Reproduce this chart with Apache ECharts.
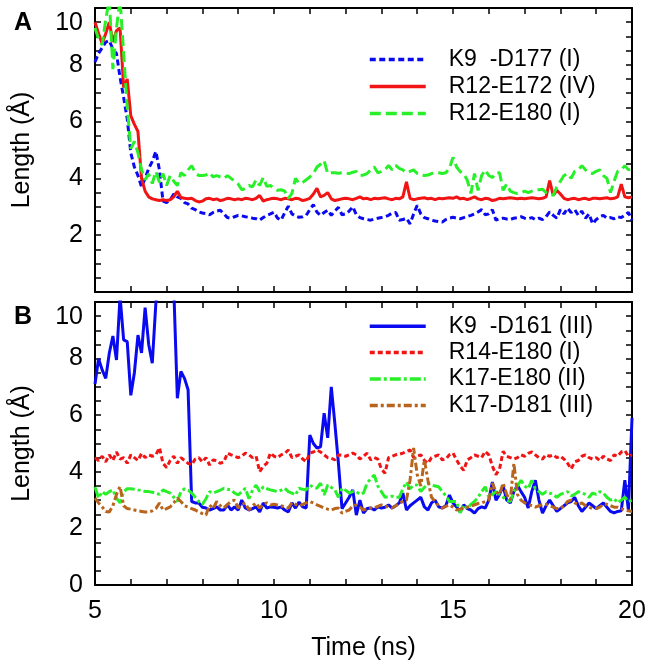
<!DOCTYPE html>
<html>
<head>
<meta charset="utf-8">
<script src="https://cdn.jsdelivr.net/npm/echarts@6/dist/echarts.min.js"></script>
<style>
html,body{margin:0;padding:0;background:#fff;}
#chart{width:655px;height:670px;}
</style>
</head>
<body>
<div id="chart"></div>
<script>
// Time axis: 5 to 20 ns in 0.1 ns steps
const times = [];
for (let i = 0; i <= 150; i++) times.push(Math.round((5 + i * 0.1) * 10) / 10);

const xTicks = [5, 10, 15, 20];
const yTicks = [0, 2, 4, 6, 8, 10];

// Panel A
const namesA = ['K9  -D177 (I)', 'R12-E172 (IV)', 'R12-E180 (I)'];
const a_K9_D177 = [
  8.1,8.4,8.6,8.8,8.85,8.55,8.4,7.55,6.85,6.1,
  4.9,4.4,4.1,3.7,4.0,4.35,4.6,4.95,4.3,3.2,
  3.15,3.25,3.45,3.35,3.3,3.15,3.1,2.95,2.9,2.82,
  2.78,2.76,2.72,2.8,2.85,2.88,2.75,2.62,2.6,2.65,
  2.7,2.68,2.65,2.63,2.6,2.58,2.53,2.62,2.7,2.75,
  2.81,2.6,2.53,2.8,3.02,2.75,2.68,2.63,2.65,2.7,
  2.9,3.08,2.81,2.7,2.8,2.88,2.7,2.85,2.98,2.72,
  2.75,2.85,3.0,2.72,2.62,2.58,2.55,2.53,2.57,2.6,
  2.62,2.65,2.7,2.78,2.8,2.53,2.55,2.6,2.4,2.75,
  3.05,2.75,2.62,2.58,2.53,2.5,2.48,2.46,2.55,2.6,
  2.63,2.6,2.58,2.62,2.66,2.7,2.75,2.82,2.9,2.72,
  2.75,2.9,2.53,2.58,2.6,2.57,2.55,2.6,2.62,2.65,
  2.6,2.58,2.62,2.55,2.6,2.55,2.65,2.82,2.7,2.6,
  2.9,2.75,2.95,2.8,2.9,2.7,2.85,2.6,2.75,2.4,
  2.55,2.65,2.7,2.6,2.62,2.58,2.65,2.62,2.7,2.8,
  2.52
];
const a_R12_E172 = [
  9.5,9.1,8.75,9.1,9.5,8.8,9.2,9.3,7.2,7.5,
  6.2,5.9,5.65,4.0,3.55,3.35,3.28,3.25,3.22,3.25,
  3.22,3.25,3.35,3.55,3.33,3.3,3.28,3.3,3.22,3.17,
  3.2,3.28,3.3,3.25,3.28,3.22,3.25,3.3,3.28,3.25,
  3.28,3.25,3.3,3.28,3.25,3.3,3.4,3.2,3.25,3.28,
  3.3,3.28,3.25,3.3,3.28,3.25,3.3,3.28,3.22,3.25,
  3.3,3.45,3.65,3.35,3.4,3.5,3.28,3.22,3.25,3.28,
  3.3,3.28,3.25,3.3,3.35,3.28,3.3,3.25,3.3,3.28,
  3.3,3.32,3.28,3.25,3.3,3.28,3.35,3.88,3.3,3.25,
  3.28,3.3,3.32,3.28,3.3,3.25,3.3,3.28,3.3,3.32,
  3.3,3.35,3.28,3.3,3.25,3.3,3.35,3.28,3.25,3.3,
  3.28,3.22,3.25,3.3,3.28,3.3,3.32,3.3,3.28,3.3,
  3.28,3.3,3.32,3.3,3.28,3.3,3.35,3.92,3.4,3.58,
  3.45,3.3,3.25,3.28,3.3,3.25,3.28,3.3,3.25,3.3,
  3.3,3.28,3.3,3.32,3.28,3.3,3.35,3.8,3.35,3.32,
  3.35
];
const a_R12_E180 = [
  9.3,8.9,8.7,9.6,10.3,7.85,9.3,10.3,8.4,6.5,
  5.05,5.3,4.9,4.3,3.95,4.15,3.82,4.25,3.86,4.17,
  3.75,4.1,3.9,3.75,4.2,4.1,4.3,4.45,4.2,4.1,
  4.1,4.12,4.2,4.05,4.1,4.05,4.0,4.1,4.0,3.9,
  3.8,3.6,3.65,3.75,3.7,3.95,3.75,4.03,3.72,3.75,
  3.65,3.58,3.6,3.55,3.3,3.47,4.0,3.82,3.86,3.95,
  4.05,4.17,4.4,4.5,4.63,4.17,4.2,4.2,4.18,4.2,
  4.18,4.17,4.22,4.24,4.1,4.12,4.17,4.3,4.4,4.2,
  4.24,4.3,4.46,4.3,4.46,4.35,4.3,4.2,4.25,4.3,
  4.17,4.12,4.1,4.12,4.17,4.2,4.2,4.17,4.2,4.35,
  4.74,4.4,4.24,4.17,3.93,3.47,4.17,3.58,4.1,4.3,
  4.1,4.03,4.2,4.2,3.58,3.8,3.55,3.5,3.47,3.5,
  3.55,3.5,3.55,3.6,3.6,3.62,3.5,3.45,3.4,3.7,
  3.9,4.1,4.17,4.0,4.25,4.3,4.45,4.3,4.2,4.17,
  4.25,4.3,4.1,4.0,3.5,3.9,4.25,4.3,4.45,4.3,
  4.35
];

// Panel B
const namesB = ['K9  -D161 (III)', 'R14-E180 (I)', 'K17-E180 (II)', 'K17-D181 (III)'];
const b_K9_D161 = [
  7.1,8.0,7.6,7.3,8.2,8.8,7.95,10.2,8.66,8.6,
  6.7,7.5,8.83,8.2,9.8,8.5,7.84,9.96,11.0,11.5,
  11.5,11.0,10.5,6.6,7.55,7.3,6.9,2.95,2.9,2.9,
  2.75,2.72,2.65,2.7,2.76,2.65,2.65,2.83,2.65,2.76,
  2.65,3.0,2.72,2.65,2.7,2.76,2.58,2.9,2.72,2.76,
  2.75,2.72,2.76,2.65,2.58,2.9,2.72,2.93,2.76,2.72,
  5.3,5.0,4.84,4.88,6.07,5.2,7.0,5.7,4.3,2.7,
  2.9,3.1,3.36,2.47,3.0,2.54,2.7,2.72,2.65,2.76,
  2.72,2.75,2.83,2.72,2.8,2.9,3.25,2.65,2.8,2.9,
  3.0,3.1,2.76,2.65,2.9,3.0,2.76,2.72,2.8,3.18,
  2.9,2.76,2.58,2.83,2.7,2.65,2.54,2.7,2.76,2.72,
  3.0,3.64,3.0,3.2,3.5,3.0,2.9,3.3,3.53,3.3,
  3.1,2.72,3.3,3.7,3.0,2.54,2.8,3.0,2.8,2.6,
  2.7,2.8,2.9,2.95,3.1,2.8,2.6,2.75,2.9,2.8,
  2.7,2.8,2.9,2.75,2.6,2.55,2.6,2.62,3.7,2.65,
  5.9
];
const b_R14_E180 = [
  4.5,4.4,4.55,4.35,4.6,4.4,4.7,4.45,4.5,4.3,
  4.6,4.5,4.4,4.65,4.5,4.6,4.55,4.6,4.85,4.3,
  4.15,4.4,4.55,4.3,4.5,4.4,4.3,4.25,4.45,4.5,
  4.35,4.5,4.24,4.42,4.4,4.3,4.35,4.66,4.6,4.55,
  4.5,4.55,4.66,4.6,4.5,4.55,4.0,4.2,4.3,4.66,
  4.55,4.5,4.6,4.65,4.77,4.5,4.55,4.6,4.45,4.36,
  4.66,4.7,4.77,4.7,4.6,4.5,4.48,4.42,4.6,4.58,
  4.55,4.6,4.66,4.6,4.45,4.55,4.66,4.42,4.5,4.45,
  4.1,3.95,4.5,4.55,4.6,4.62,4.66,4.72,4.77,4.5,
  4.55,4.6,4.4,4.3,4.5,4.55,4.6,4.42,4.45,4.6,
  4.66,4.42,4.2,4.05,4.42,4.5,4.6,4.55,4.5,4.72,
  4.6,4.2,3.9,4.1,4.72,4.55,4.5,4.45,4.5,4.6,
  4.55,4.65,4.7,4.6,4.5,4.45,4.6,4.55,4.6,4.5,
  4.55,4.45,4.3,4.1,4.35,4.4,4.55,4.6,4.5,4.45,
  4.5,4.4,4.55,4.45,4.4,4.6,4.55,4.7,4.75,4.55,
  4.6
];
const b_K17_E180 = [
  3.46,3.07,3.3,3.2,3.3,3.36,3.07,2.9,3.3,3.4,
  3.4,3.38,3.36,3.35,3.3,3.3,3.28,3.25,3.2,3.36,
  3.3,3.25,3.1,2.95,3.3,3.4,3.35,3.25,3.1,2.95,
  2.85,3.05,3.3,3.25,3.3,3.35,3.42,3.38,3.36,3.25,
  3.18,3.3,3.42,3.05,3.35,3.53,3.3,3.47,3.4,3.36,
  3.33,3.3,3.35,3.42,3.3,3.25,3.18,3.42,3.38,3.36,
  3.53,3.45,3.42,3.6,3.18,3.53,3.45,3.36,3.1,3.42,
  3.35,3.25,3.3,3.3,3.2,3.25,3.6,3.75,3.89,3.5,
  3.3,3.1,3.12,3.14,3.1,3.1,3.4,3.64,3.4,3.53,
  3.53,3.3,3.45,3.6,3.53,3.5,3.47,3.3,3.15,2.95,
  2.95,2.95,2.55,2.83,2.7,2.85,2.95,3.1,3.3,3.47,
  3.1,3.2,3.3,3.2,3.1,3.0,2.95,3.3,3.5,3.7,
  3.5,3.4,3.7,3.4,3.3,3.2,3.3,3.25,3.2,3.1,
  3.2,3.25,3.3,3.15,3.2,3.3,3.25,3.2,3.1,3.25,
  3.2,3.3,3.25,3.1,3.0,3.05,2.9,3.0,3.1,2.95,
  3.0
];
const b_K17_D181 = [
  3.07,2.9,2.76,2.6,2.58,2.8,3.2,3.48,2.8,2.7,
  2.68,2.65,2.62,2.6,2.58,2.58,2.62,2.7,2.9,2.65,
  2.7,2.76,2.9,3.07,2.95,2.8,2.75,2.7,2.65,2.58,
  2.52,2.47,2.83,2.7,2.95,2.8,2.72,2.85,2.95,3.0,
  2.72,2.85,2.9,2.65,2.8,2.9,2.72,2.85,2.9,2.83,
  2.85,2.83,2.8,2.75,2.72,2.9,2.85,2.8,2.85,2.9,
  2.95,2.9,2.83,2.78,2.72,2.68,2.65,2.7,2.72,2.54,
  2.6,2.65,2.8,2.83,2.75,2.65,2.7,2.72,2.72,2.78,
  2.83,2.8,2.75,2.72,2.8,2.9,2.95,3.0,3.7,4.84,
  3.9,3.5,4.42,3.7,3.1,2.95,2.8,2.72,2.78,2.83,
  2.75,2.65,2.68,2.72,2.75,2.78,2.83,2.88,2.9,2.95,
  3.0,3.6,3.3,3.2,3.6,3.2,3.0,4.3,3.2,3.0,
  2.9,2.85,2.8,2.75,2.8,2.85,2.85,2.8,2.75,2.7,
  2.7,2.8,2.95,3.0,2.9,2.85,2.9,2.8,2.75,2.7,
  2.7,2.75,2.85,2.85,2.8,2.75,2.75,2.7,2.65,2.62,
  2.6
];

const FONT = '"Liberation Sans", Arial, Helvetica, sans-serif';
const BLACK = '#000';

function pairs(vals) { return vals.map((v, i) => [times[i], v]); }

function xAx(grid, pos, labels, name) {
  return {
    gridIndex: grid, type: 'value', position: pos,
    min: xTicks[0], max: xTicks[xTicks.length - 1], interval: 5,
    axisLine: { show: true, onZero: false, lineStyle: { color: BLACK, width: 2 } },
    axisTick: { show: true, inside: true, length: 6, lineStyle: { color: BLACK, width: 1.5 } },
    minorTick: { show: true, splitNumber: 5, length: 6, lineStyle: { color: BLACK, width: 1.5 } },
    splitLine: { show: false }, minorSplitLine: { show: false },
    axisLabel: { show: labels, fontSize: 25, color: BLACK, fontFamily: FONT, margin: 14 },
    name: name || '', nameLocation: 'middle', nameGap: 51,
    nameTextStyle: { fontSize: 25, color: BLACK, fontFamily: FONT }
  };
}
function yAx(grid, pos, labels, hideZero) {
  return {
    gridIndex: grid, type: 'value', position: pos,
    min: yTicks[0], max: yTicks[yTicks.length - 1], interval: 2,
    axisLine: { show: true, onZero: false, lineStyle: { color: BLACK, width: 2 } },
    axisTick: { show: true, inside: true, length: 6, lineStyle: { color: BLACK, width: 1.5 } },
    minorTick: { show: true, splitNumber: 4, length: 6, lineStyle: { color: BLACK, width: 1.5 } },
    splitLine: { show: false }, minorSplitLine: { show: false },
    axisLabel: {
      show: labels, fontSize: 25, color: BLACK, fontFamily: FONT, margin: 12,
      formatter: function (v) {
        if (v === 0 && hideZero) return '';
        if (v === 10) return '{t|10}';
        return String(v);
      },
      rich: { t: { fontSize: 25, color: BLACK, fontFamily: FONT, padding: [31, 0, 0, 0] } }
    },
    name: labels ? 'Length (Å)' : '', nameLocation: 'middle', nameGap: 60, nameRotate: 90,
    nameTextStyle: { fontSize: 25, color: BLACK, fontFamily: FONT }
  };
}

function line(name, vals, color, dash, xi, yi) {
  return {
    name: name, type: 'line', xAxisIndex: xi, yAxisIndex: yi,
    data: pairs(vals), symbol: 'none', showSymbol: false, clip: true,
    lineStyle: { color: color, width: 3, type: dash },
    itemStyle: { color: color }
  };
}

const BLUE = '#0a0af0', RED = '#f01414', GREEN = '#28f028', BROWN = '#b8641c';

const legendCommon = {
  orient: 'vertical', left: 363, itemWidth: 56, itemHeight: 14, itemGap: 0,
  itemStyle: { color: 'rgba(0,0,0,0)', borderColor: 'rgba(0,0,0,0)', borderWidth: 0 },
  lineStyle: { width: 3.5 },
  textStyle: { fontSize: 23, color: BLACK, fontFamily: FONT, padding: [0, 0, 0, 18], lineHeight: 27 }
};

const option = {
  animation: false,
  backgroundColor: '#fff',
  grid: [
    { left: 95, top: 8, width: 537, height: 284 },
    { left: 95, top: 302, width: 537, height: 283 }
  ],
  xAxis: [xAx(0, 'bottom', false), xAx(0, 'top', false), xAx(1, 'bottom', true, 'Time (ns)'), xAx(1, 'top', false)],
  yAxis: [yAx(0, 'left', true, true), yAx(0, 'right', false), yAx(1, 'left', true, false), yAx(1, 'right', false)],
  legend: [
    Object.assign({}, legendCommon, { top: 41, data: namesA }),
    Object.assign({}, legendCommon, { top: 308, data: namesB, textStyle: Object.assign({}, legendCommon.textStyle, { lineHeight: 26.4 }) })
  ],
  graphic: [
    { type: 'text', left: 14, top: 11, style: { text: 'A', fontSize: 25, fontWeight: 'bold', fill: BLACK, fontFamily: FONT } },
    { type: 'text', left: 14, top: 305, style: { text: 'B', fontSize: 25, fontWeight: 'bold', fill: BLACK, fontFamily: FONT } }
  ],
  series: [
    line(namesA[0], a_K9_D177, BLUE, [6, 3.5], 0, 0),
    line(namesA[1], a_R12_E172, RED, 'solid', 0, 0),
    line(namesA[2], a_R12_E180, GREEN, [11, 5], 0, 0),
    line(namesB[0], b_K9_D161, BLUE, 'solid', 2, 2),
    line(namesB[1], b_R14_E180, RED, [5, 3], 2, 2),
    line(namesB[2], b_K17_E180, GREEN, [11, 3, 3, 3], 2, 2),
    line(namesB[3], b_K17_D181, BROWN, [8, 3, 3, 3], 2, 2)
  ]
};

const chart = echarts.init(document.getElementById('chart'), null, { renderer: 'canvas' });
chart.setOption(option);
</script>
</body>
</html>
